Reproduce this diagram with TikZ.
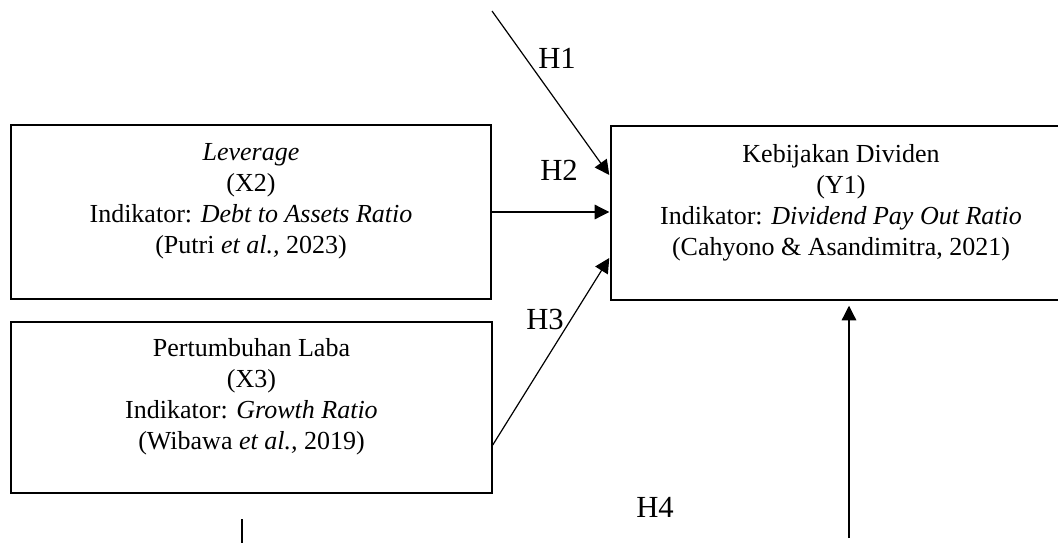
\documentclass[tikz,border=0pt]{standalone}
\usepackage{fontspec}
\setmainfont{Liberation Serif}
\usetikzlibrary{arrows,arrows.meta,positioning,calc}
\usepackage{tikz}

\begin{document}
\begin{tikzpicture}[x=0.75pt,y=-0.75pt,>={Triangle[length=11pt,width=11pt]},
    varbox/.style={draw,line width=1.1pt,align=center,inner sep=0pt,
        font=\fontsize{19.5}{23.25}\selectfont},
    hlabel/.style={inner sep=0pt,font=\fontsize{23}{27}\selectfont},
    conn/.style={->,line width=0.9pt}]
    \useasboundingbox (0,0) rectangle (1058,543);
    \clip (0,0) rectangle (1058,543);

    \node [varbox,minimum width=360pt,minimum height=130.5pt] (lev) at (251,212)
        {\textit{Leverage}\\(X2)\\Indikator: \textit{Debt to Assets Ratio}\\(Putri \textit{et al.,} 2023)\\[-10pt]\strut};
    \node [varbox,minimum width=360.75pt,minimum height=128.25pt] (pl) at (251.5,407.5)
        {Pertumbuhan Laba\\(X3)\\Indikator: \textit{Growth Ratio}\\(Wibawa \textit{et al.,} 2019)\\[-10pt]\strut};
    \node [varbox,minimum width=345pt,minimum height=130.5pt] (kd) at (841,213)
        {Kebijakan Dividen\\(Y1)\\Indikator: \textit{Dividend Pay Out Ratio}\\(Cahyono \& Asandimitra, 2021)\\[-10pt]\strut};

    \coordinate (top) at (492,11);
    \coordinate (bot) at (849,538);

    \node [hlabel] (h1) at (557,58) {H1};
    \node [hlabel] (h2) at (559,170) {H2};
    \node [hlabel] (h3) at (545,319) {H3};
    \node [hlabel] (h4) at (655,507) {H4};

    \draw [conn] (top) -- ($(kd.west)+(-1,-38)$);
    \draw [conn] (lev.east) -- ($(lev.east -| kd.west)+(-1,0)$);
    \draw [conn] ($(pl.east)+(0,37.5)$) -- ($(kd.west)+(-1,45)$);
    \draw [conn] (bot) -- ($(kd.south -| bot)+(0,5)$);
    \draw [line width=0.9pt] (242,519) -- (242,545);
\end{tikzpicture}
\end{document}
